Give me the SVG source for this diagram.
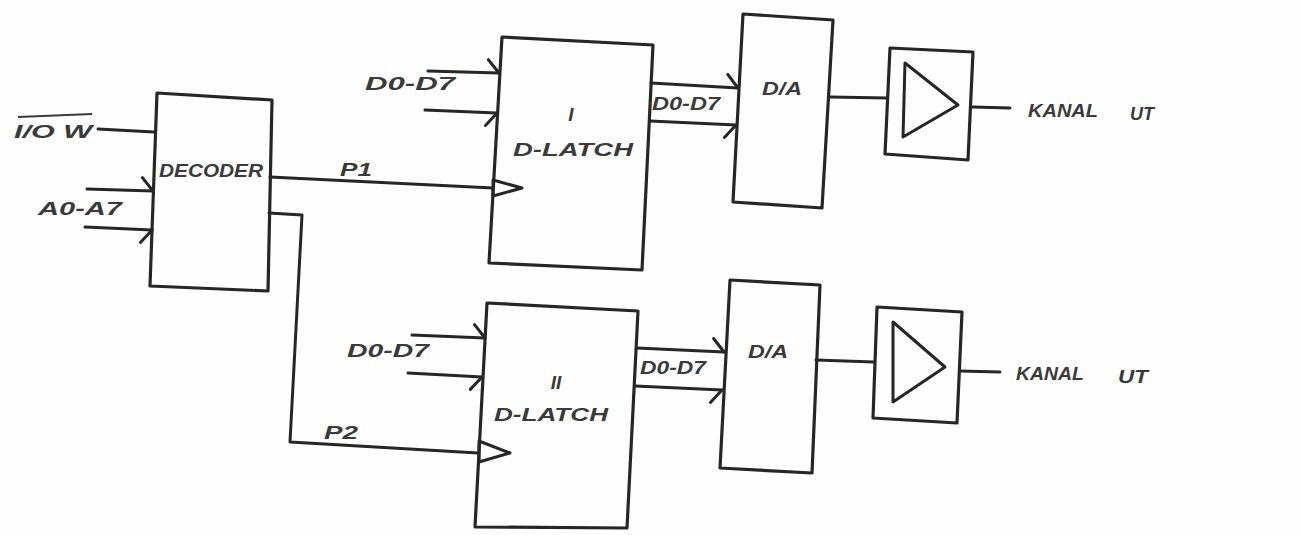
<svg xmlns="http://www.w3.org/2000/svg" width="1300" height="535" viewBox="0 0 1300 535">
<style>
.box{fill:none;stroke:#262626;stroke-width:3.2;stroke-linejoin:round}
.w{fill:none;stroke:#262626;stroke-width:3;stroke-linecap:round;stroke-linejoin:round}
.t{font-family:"Liberation Sans",Arial,sans-serif;font-style:italic;font-weight:bold;fill:#3a3a3a;font-size:19px}
</style>
<defs>
<marker id="barbUp" markerUnits="userSpaceOnUse" markerWidth="20" markerHeight="20" orient="auto" overflow="visible"><path d="M-11,-13 L0,0" stroke="#262626" stroke-width="3" fill="none" stroke-linecap="round"/></marker>
<marker id="barbDn" markerUnits="userSpaceOnUse" markerWidth="20" markerHeight="20" orient="auto" overflow="visible"><path d="M-11,13 L0,0" stroke="#262626" stroke-width="3" fill="none" stroke-linecap="round"/></marker>
</defs>
<rect width="1300" height="535" fill="#fefefe"/>
<g id="connectors">
<line class="w" x1="98" y1="129" x2="154" y2="132"/>
<line class="w" x1="87" y1="189" x2="153" y2="191" marker-end="url(#barbUp)"/>
<line class="w" x1="85" y1="227" x2="152" y2="230" marker-end="url(#barbDn)"/>
<line class="w" x1="270" y1="177" x2="493" y2="188"/>
<polyline class="w" points="269,213 302,215 290,442 478,453"/>
<line class="w" x1="428" y1="71" x2="499" y2="73" marker-end="url(#barbUp)"/>
<line class="w" x1="425" y1="110" x2="497" y2="113" marker-end="url(#barbDn)"/>
<line class="w" x1="412" y1="335" x2="485" y2="338" marker-end="url(#barbUp)"/>
<line class="w" x1="408" y1="373" x2="482" y2="377" marker-end="url(#barbDn)"/>
<line class="w" x1="651" y1="83" x2="738" y2="88" marker-end="url(#barbUp)"/>
<line class="w" x1="650" y1="121" x2="736" y2="125" marker-end="url(#barbDn)"/>
<line class="w" x1="637" y1="348" x2="724" y2="352" marker-end="url(#barbUp)"/>
<line class="w" x1="635" y1="386" x2="722" y2="390" marker-end="url(#barbDn)"/>
<line class="w" x1="830" y1="97" x2="887" y2="98"/>
<line class="w" x1="973" y1="107" x2="1010" y2="108"/>
<line class="w" x1="816" y1="360" x2="874" y2="362"/>
<line class="w" x1="960" y1="371" x2="1000" y2="372"/>
</g>
<g id="io-label">
<text class="t" x="14" y="138" textLength="78" lengthAdjust="spacingAndGlyphs">I/O W</text>
<line x1="18" y1="117" x2="92" y2="114" stroke="#3a3a3a" stroke-width="2"/>
</g>
<text class="t" x="38" y="215" textLength="84" lengthAdjust="spacingAndGlyphs">A0-A7</text>
<g id="decoder">
<polygon class="box" points="157,93 272,100 268,291 150,286"/>
<text class="t" x="159" y="177" textLength="104" lengthAdjust="spacingAndGlyphs">DECODER</text>
</g>
<text class="t" x="340" y="176" textLength="32" lengthAdjust="spacingAndGlyphs">P1</text>
<text class="t" x="324" y="439" textLength="34" lengthAdjust="spacingAndGlyphs">P2</text>
<g id="latch1">
<polygon class="box" points="502,37 653,45 642,270 489,263"/>
<polygon class="w" points="493,180 522,188 493,196"/>
<text class="t" x="571" y="121" text-anchor="middle">I</text>
<text class="t" x="513" y="156" textLength="120" lengthAdjust="spacingAndGlyphs">D-LATCH</text>
<text class="t" x="365" y="90" textLength="90" lengthAdjust="spacingAndGlyphs">D0-D7</text>
</g>
<g id="latch2">
<polygon class="box" points="487,303 638,311 627,528 475,527"/>
<polygon class="w" points="479,441 510,453 479,462"/>
<text class="t" x="556" y="389" text-anchor="middle">II</text>
<text class="t" x="494" y="421" textLength="114" lengthAdjust="spacingAndGlyphs">D-LATCH</text>
<text class="t" x="347" y="357" textLength="82" lengthAdjust="spacingAndGlyphs">D0-D7</text>
</g>
<g id="da1">
<polygon class="box" points="743,14 833,20 822,208 733,202"/>
<text class="t" x="762" y="95" textLength="40" lengthAdjust="spacingAndGlyphs">D/A</text>
<text class="t" x="652" y="110" textLength="68" lengthAdjust="spacingAndGlyphs">D0-D7</text>
</g>
<g id="da2">
<polygon class="box" points="730,280 820,285 812,473 720,468"/>
<text class="t" x="748" y="358" textLength="40" lengthAdjust="spacingAndGlyphs">D/A</text>
<text class="t" x="640" y="374" textLength="66" lengthAdjust="spacingAndGlyphs">D0-D7</text>
</g>
<g id="amp1">
<polygon class="box" points="890,48 973,52 968,160 885,154"/>
<polygon class="w" points="905,63 958,105 903,137"/>
<text class="t" x="1028" y="117" textLength="70" lengthAdjust="spacingAndGlyphs" font-weight="normal">KANAL</text>
<text class="t" x="1130" y="120" textLength="24" lengthAdjust="spacingAndGlyphs" font-weight="normal">UT</text>
</g>
<g id="amp2">
<polygon class="box" points="877,307 962,312 957,423 873,418"/>
<polygon class="w" points="893,322 945,367 893,402"/>
<text class="t" x="1016" y="380" textLength="68" lengthAdjust="spacingAndGlyphs" font-weight="normal">KANAL</text>
<text class="t" x="1118" y="383" textLength="30" lengthAdjust="spacingAndGlyphs" font-weight="normal">UT</text>
</g>
</svg>
